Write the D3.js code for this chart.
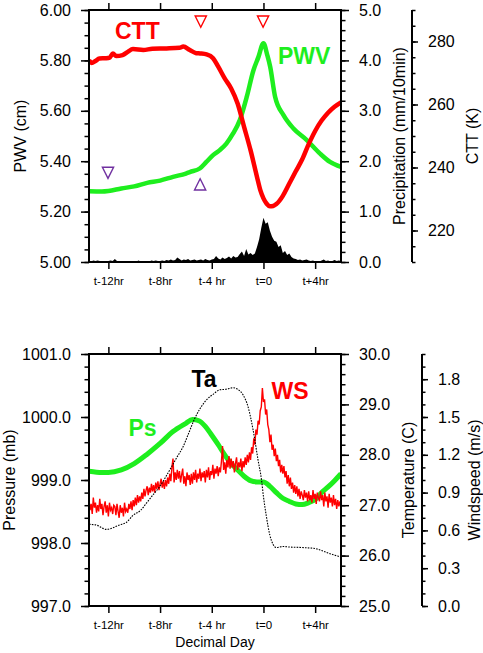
<!DOCTYPE html>
<html>
<head>
<meta charset="utf-8">
<script src="https://cdn.jsdelivr.net/npm/d3@7"></script>
<style>
  html, body { margin: 0; padding: 0; background: #fff; }
  svg { display: block; }
  text { font-family: "Liberation Sans", Arial, Helvetica, sans-serif; fill: #000; }
</style>
</head>
<body>
<svg id="chart" width="483" height="653"></svg>
<script>
// ---------------- DATA ----------------
const timeDomain = [-13.5, 6];
const hourTicks = [-12, -8, -4, 0, 4];
const hourLabels = ["t-12hr", "t-8hr", "t-4 hr", "t=0", "t+4hr"];

// Top panel
const pwvHours  = [-13.5,-12.5,-12,-11,-10,-9,-8,-7,-6,-5.7,-4.93,-4.42,-3.9,-3.38,-2.87,-2.35,-1.83,-1.29,-0.78,-0.4,0,0.3,0.52,0.9,1.55,2.32,3.35,4.38,5.15,6];
const pwvValues = [5.281,5.280,5.282,5.292,5.300,5.314,5.323,5.338,5.351,5.357,5.371,5.397,5.424,5.444,5.470,5.510,5.563,5.656,5.760,5.812,5.868,5.820,5.775,5.656,5.583,5.530,5.484,5.430,5.397,5.377];

const cttHours  = [-13.5,-13.3,-13.0,-12.7,-12.2,-11.9,-11.65,-11.4,-10.9,-10.5,-10.1,-9.3,-8.6,-7.5,-6.5,-6.2,-5.7,-5.2,-4.9,-4.4,-3.9,-3.5,-3.0,-2.5,-2.0,-1.5,-1.0,-0.5,-0.25,0,0.25,0.5,0.75,1.0,1.5,2.0,2.5,3.0,3.5,4.0,4.5,5.0,5.5,6.0];
const cttValues = [274.1,273.2,273.8,274.6,274.7,274.9,276.2,275.4,275.7,276.7,277.6,277.3,277.7,277.8,278.0,278.4,277.3,276.3,276.2,275.9,274.7,272.0,268.3,265.1,260.3,252.9,245.5,237.0,232.9,230.2,228.5,227.7,227.8,228.4,231.0,234.9,238.8,242.6,247.4,251.6,254.9,257.4,259.3,260.7];

// precipitation, 10-minute samples starting at t-13.5 h
const precipStartHour = -13.5;
const precipStepHours = 1 / 6;
const precipValues = [
  0.02,0.01,0.03,0.02,0.03,0.02,0.01,0.02,0.01,0.02,0.03,0.02,0.06,0.02,0.01,0.01,0.02,0.01,0.00,0.01,
  0.01,0.02,0.01,0.03,0.01,0.00,0.01,0.02,0.01,0.03,0.02,0.03,0.02,0.02,0.03,0.02,0.04,0.03,0.05,0.03,
  0.04,0.09,0.06,0.03,0.05,0.04,0.06,0.03,0.04,0.05,0.03,0.04,0.05,0.03,0.06,0.04,0.03,0.05,0.06,0.12,
  0.07,0.05,0.09,0.06,0.08,0.11,0.07,0.12,0.09,0.10,0.16,0.21,0.12,0.26,0.15,0.18,0.14,0.17,0.30,0.45,
  0.68,0.88,0.76,0.79,0.62,0.50,0.42,0.40,0.30,0.33,0.18,0.22,0.14,0.17,0.10,0.07,0.06,0.04,0.05,0.03,
  0.04,0.05,0.03,0.02,0.03,0.01,0.02,0.01,0.03,0.05,0.02,0.03,0.01,0.02,0.04,0.02,0.03,0.02
];

// triangle markers (hour, PWV-axis value)
const redDownHours = [-4.85, -0.03];
const redDownPWV   = [5.954, 5.954];
const purpleDownHours = [-12.03];
const purpleDownPWV   = [5.354];
const purpleUpHours   = [-4.9];
const purpleUpPWV     = [5.308];

// Bottom panel
const psHours  = [-13.5,-12.5,-12,-11,-10,-9,-8,-7,-6,-5.5,-5,-4.5,-4,-3.5,-3,-2.5,-2,-1.5,-1,-0.5,0,0.5,1,1.5,2,2.5,3,3.5,4,4.5,5,5.5,6];
const psValues = [999.14,999.12,999.12,999.16,999.26,999.41,999.58,999.77,999.90,999.96,999.94,999.85,999.71,999.56,999.40,999.26,999.16,999.06,998.99,998.97,998.97,998.90,998.80,998.71,998.66,998.62,998.61,998.64,998.69,998.80,998.89,998.99,999.10];

const taHours  = [-13.5,-13.0,-12.15,-11.12,-10.6,-10.09,-9.5,-9.06,-8.5,-8.03,-7.25,-6.7,-6.22,-5.8,-5.32,-4.9,-4.41,-3.9,-3.38,-2.9,-2.35,-2.0,-1.58,-1.19,-0.8,-0.42,-0.15,0,0.23,0.49,0.75,1.0,1.5,2,3,4,4.5,5,5.5,6];
const taValues = [26.62,26.61,26.52,26.61,26.66,26.80,26.90,27.04,27.22,27.37,27.70,27.95,28.16,28.42,28.72,28.92,29.09,29.20,29.29,29.30,29.33,29.30,29.19,28.95,28.49,27.90,27.50,27.17,26.77,26.41,26.22,26.16,26.18,26.17,26.16,26.14,26.10,26.05,26.01,25.97];

// wind speed, 5-minute samples starting at t-13.5 h
const wsStartHour = -13.5;
const wsStepHours = 1 / 12;
const wsValues = [
  0.84,0.76,0.81,0.73,0.86,0.78,0.82,0.74,0.80,0.75,0.85,0.77,
  0.81,0.72,0.79,0.83,0.74,0.80,0.71,0.82,0.76,0.78,0.73,0.80,
  0.79,0.72,0.81,0.75,0.70,0.80,0.74,0.78,0.71,0.82,0.75,0.77,
  0.74,0.81,0.77,0.83,0.76,0.84,0.79,0.86,0.80,0.88,0.82,0.87,
  0.83,0.90,0.85,0.93,0.87,0.92,0.95,0.88,0.94,0.90,0.97,0.91,
  0.96,0.90,0.98,0.93,0.99,0.92,0.97,1.01,0.94,0.99,0.93,1.00,
  0.95,1.02,0.97,1.05,0.99,1.10,1.17,0.98,1.06,1.00,1.08,1.01,
  1.07,0.98,1.04,1.09,0.97,1.03,0.95,1.06,1.00,1.04,0.96,1.05,
  0.97,1.06,1.00,1.08,0.98,1.05,1.01,1.09,0.99,1.06,1.02,1.07,
  0.98,1.08,1.02,1.10,1.00,1.07,1.04,1.12,1.01,1.09,1.05,1.11,
  1.03,1.10,1.06,1.15,1.27,1.08,1.14,1.05,1.16,1.10,1.19,1.09,
  1.17,1.10,1.15,1.06,1.13,1.18,1.08,1.14,1.10,1.17,1.07,1.15,
  1.10,1.18,1.12,1.20,1.14,1.22,1.16,1.26,1.21,1.33,1.28,1.40,
  1.36,1.47,1.44,1.55,1.58,1.73,1.62,1.64,1.52,1.56,1.44,1.40,
  1.30,1.36,1.24,1.28,1.19,1.25,1.15,1.20,1.11,1.16,1.06,1.12,
  1.05,1.11,1.02,1.07,0.97,1.04,0.95,1.02,0.93,0.98,0.90,0.96,
  0.89,0.95,0.87,0.93,0.85,0.91,0.88,0.84,0.92,0.86,0.90,0.83,
  0.91,0.84,0.88,0.82,0.92,0.85,0.89,0.81,0.90,0.86,0.83,0.91,
  0.84,0.88,0.79,0.90,0.83,0.87,0.78,0.89,0.82,0.86,0.79,0.88,
  0.80,0.85,0.77,0.84,0.79,0.83,0.78
];

// axis tick values
const pwvMajor = [5.0,5.2,5.4,5.6,5.8,6.0];
const precipMajor = [0,1,2,3,4,5];
const cttMajor = [220,240,260,280];
const psMajor = [997,998,999,1000,1001];
const taMajor = [25,26,27,28,29,30];
const wsMajor = [0,0.3,0.6,0.9,1.2,1.5,1.8];

// ---------------- DRAWING ----------------
const svg = d3.select("#chart");
const plotL = 89, plotR = 341;
const top1 = 10, bot1 = 262;
const top2 = 354, bot2 = 606;

const RED = "#ff0000", GREEN = "#1eee1e", PURPLE = "#7030a0";
const LABEL_FONT = "'Open Sans', 'DejaVu Sans', sans-serif";

const x = d3.scaleLinear().domain(timeDomain).range([plotL, plotR]);

const yPWV = d3.scaleLinear().domain([5, 6]).range([bot1, top1]);
const yPrec = d3.scaleLinear().domain([0, 5]).range([bot1, top1]);
const yCTT = d3.scaleLinear().domain([210, 290]).range([bot1, top1]);

const yPs = d3.scaleLinear().domain([997, 1001]).range([bot2, top2]);
const yTa = d3.scaleLinear().domain([25, 30]).range([bot2, top2]);
const yWS = d3.scaleLinear().domain([0, 2]).range([bot2, top2]);

function range(a, b, s) { const out = []; for (let v = a; v <= b + s / 1000; v += s) out.push(+v.toFixed(4)); return out; }

function styleAxis(g) {
  g.selectAll(".tick line").attr("stroke", "#000").attr("stroke-width", 1.5);
  g.selectAll(".tick text").attr("font-size", 16).attr("font-family", "'Liberation Sans', Arial, sans-serif").attr("fill", "#000");
  g.select(".domain").remove();
}

function yAxisPair(axisFn, scale, xPos, majors, minors, fmt, majorLen, minorLen, pad) {
  const gMin = svg.append("g").attr("transform", `translate(${xPos},0)`)
    .call(axisFn(scale).tickValues(minors).tickSize(minorLen).tickFormat(""));
  styleAxis(gMin);
  const gMaj = svg.append("g").attr("transform", `translate(${xPos},0)`)
    .call(axisFn(scale).tickValues(majors).tickSize(majorLen).tickPadding(pad).tickFormat(fmt));
  styleAxis(gMaj);
  return gMaj;
}

function xAxes(yTop, yBot) {
  const gt = svg.append("g").attr("transform", `translate(0,${yTop})`)
    .call(d3.axisTop(x).tickValues(hourTicks).tickSize(7).tickFormat(""));
  styleAxis(gt);
  const gb = svg.append("g").attr("transform", `translate(0,${yBot})`)
    .call(d3.axisBottom(x).tickValues(hourTicks).tickSize(7).tickPadding(7.5)
      .tickFormat((d, i) => hourLabels[i]));
  styleAxis(gb);
  gb.selectAll(".tick text").attr("font-size", 11.5);
}

function clip(id, yTop, yBot) {
  svg.append("clipPath").attr("id", id).append("rect")
    .attr("x", plotL).attr("y", yTop).attr("width", plotR - plotL).attr("height", yBot - yTop);
}
clip("clipTop", top1, bot1);
clip("clipBot", top2, bot2);

function bigLabel(xp, yp, color, txt) {
  svg.append("text").attr("x", xp).attr("y", yp)
    .attr("font-family", LABEL_FONT).attr("font-weight", "bold").attr("font-size", 23)
    .style("fill", color).text(txt);
}

// ===== TOP PANEL =====
const precipData = precipValues.map((v, i) => ({ t: precipStartHour + i * precipStepHours, v }));
svg.append("path").datum(precipData)
  .attr("clip-path", "url(#clipTop)")
  .attr("fill", "#000")
  .attr("d", d3.area().x(d => x(d.t)).y0(yPrec(0)).y1(d => yPrec(d.v)));

const pwvData = pwvHours.map((t, i) => ({ t, v: pwvValues[i] }));
svg.append("path").datum(pwvData)
  .attr("clip-path", "url(#clipTop)")
  .attr("fill", "none").attr("stroke", GREEN).attr("stroke-width", 4.5).attr("stroke-linejoin", "round")
  .attr("d", d3.line().x(d => x(d.t)).y(d => yPWV(d.v)).curve(d3.curveMonotoneX));

const cttData = cttHours.map((t, i) => ({ t, v: cttValues[i] }));
svg.append("path").datum(cttData)
  .attr("clip-path", "url(#clipTop)")
  .attr("fill", "none").attr("stroke", RED).attr("stroke-width", 4.5).attr("stroke-linejoin", "round")
  .attr("d", d3.line().x(d => x(d.t)).y(d => yCTT(d.v)).curve(d3.curveMonotoneX));

function tri(cx, cy, up) {
  const w = 5.6, h = 5.6;
  return up
    ? `M${cx - w},${cy + h}L${cx + w},${cy + h}L${cx},${cy - h}Z`
    : `M${cx - w},${cy - h}L${cx + w},${cy - h}L${cx},${cy + h}Z`;
}
redDownHours.forEach((t, i) => svg.append("path").attr("d", tri(x(t), yPWV(redDownPWV[i]), false))
  .attr("fill", "none").attr("stroke", RED).attr("stroke-width", 1.4));
purpleDownHours.forEach((t, i) => svg.append("path").attr("d", tri(x(t), yPWV(purpleDownPWV[i]), false))
  .attr("fill", "none").attr("stroke", PURPLE).attr("stroke-width", 1.4));
purpleUpHours.forEach((t, i) => svg.append("path").attr("d", tri(x(t), yPWV(purpleUpPWV[i]), true))
  .attr("fill", "none").attr("stroke", PURPLE).attr("stroke-width", 1.4));

// frame
svg.append("rect").attr("x", plotL).attr("y", top1).attr("width", plotR - plotL).attr("height", bot1 - top1)
  .attr("fill", "none").attr("stroke", "#000").attr("stroke-width", 2);

yAxisPair(d3.axisLeft, yPWV, plotL, pwvMajor, range(5, 6, 0.05), d3.format(".2f"), 8, 4.5, 10);
yAxisPair(d3.axisRight, yPrec, plotR, precipMajor, range(0, 5, 0.2), d3.format(".1f"), 8, 4.5, 10);
// CTT axis
const cttX = 412;
svg.append("line").attr("x1", cttX).attr("x2", cttX).attr("y1", top1).attr("y2", bot1)
  .attr("stroke", "#000").attr("stroke-width", 2);
yAxisPair(d3.axisRight, yCTT, cttX, cttMajor, range(210, 290, 5), d3.format("d"), 6, 3.5, 10);
xAxes(top1, bot1);

bigLabel(115, 38.5, RED, "CTT");
bigLabel(278, 63.5, GREEN, "PWV");

function vtitle(xb, yc, txt) {
  svg.append("text").attr("transform", `translate(${xb},${yc}) rotate(-90)`)
    .attr("text-anchor", "middle").attr("font-size", 16).text(txt);
}
vtitle(25.5, (top1 + bot1) / 2, "PWV (cm)");
vtitle(404.5, (top1 + bot1) / 2, "Precipitation (mm/10min)");
vtitle(477.5, (top1 + bot1) / 2, "CTT (K)");

// ===== BOTTOM PANEL =====
const psData = psHours.map((t, i) => ({ t, v: psValues[i] }));
svg.append("path").datum(psData)
  .attr("clip-path", "url(#clipBot)")
  .attr("fill", "none").attr("stroke", GREEN).attr("stroke-width", 5).attr("stroke-linejoin", "round")
  .attr("d", d3.line().x(d => x(d.t)).y(d => yPs(d.v)).curve(d3.curveMonotoneX));

const wsData = wsValues.map((v, i) => ({ t: wsStartHour + i * wsStepHours, v }));
svg.append("path").datum(wsData)
  .attr("clip-path", "url(#clipBot)")
  .attr("fill", "none").attr("stroke", RED).attr("stroke-width", 1.4)
  .attr("d", d3.line().x(d => x(d.t)).y(d => yWS(d.v)));

const taData = taHours.map((t, i) => ({ t, v: taValues[i] }));
svg.append("path").datum(taData)
  .attr("clip-path", "url(#clipBot)")
  .attr("fill", "none").attr("stroke", "#000").attr("stroke-width", 1.1).attr("stroke-dasharray", "1.6,1.2")
  .attr("d", d3.line().x(d => x(d.t)).y(d => yTa(d.v)).curve(d3.curveMonotoneX));

svg.append("rect").attr("x", plotL).attr("y", top2).attr("width", plotR - plotL).attr("height", bot2 - top2)
  .attr("fill", "none").attr("stroke", "#000").attr("stroke-width", 2);

yAxisPair(d3.axisLeft, yPs, plotL, psMajor, range(997, 1001, 0.2), d3.format(".1f"), 8, 4.5, 10);
yAxisPair(d3.axisRight, yTa, plotR, taMajor, range(25, 30, 0.2), d3.format(".1f"), 8, 4.5, 10);
const wsX = 422;
svg.append("line").attr("x1", wsX).attr("x2", wsX).attr("y1", top2).attr("y2", bot2)
  .attr("stroke", "#000").attr("stroke-width", 2);
yAxisPair(d3.axisRight, yWS, wsX, wsMajor, range(0, 2, 0.1), d3.format(".1f"), 6, 3.5, 10);
xAxes(top2, bot2);

bigLabel(191.5, 387, "#000", "Ta");
bigLabel(271.5, 398.5, RED, "WS");
bigLabel(128.5, 436, GREEN, "Ps");

vtitle(14.5, (top2 + bot2) / 2, "Pressure (mb)");
vtitle(413.5, (top2 + bot2) / 2, "Temperature (C)");
vtitle(479.5, (top2 + bot2) / 2, "Windspeed (m/s)");

svg.append("text").attr("x", (plotL + plotR) / 2).attr("y", 647)
  .attr("text-anchor", "middle").attr("font-size", 14).text("Decimal Day");
</script>
</body>
</html>
